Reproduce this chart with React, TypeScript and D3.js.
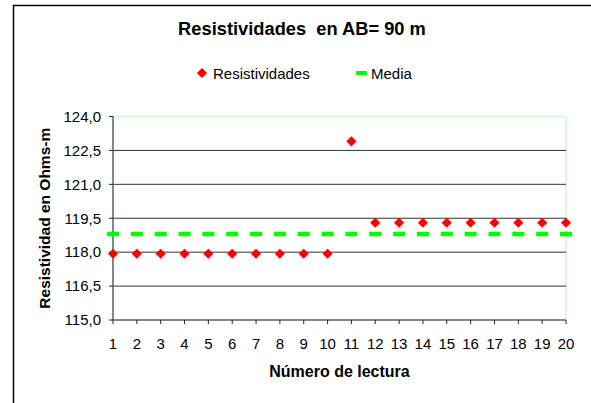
import * as d3 from "d3";

const lecturas = ["1", "2", "3", "4", "5", "6", "7", "8", "9", "10", "11", "12", "13", "14", "15", "16", "17", "18", "19", "20"];
const resistividades = [117.93, 117.93, 117.93, 117.93, 117.93, 117.93, 117.93, 117.93, 117.93, 117.93, 122.9, 119.3, 119.3, 119.3, 119.3, 119.3, 119.3, 119.3, 119.3, 119.3];
const media = 118.8;
const yTicks = [115, 116.5, 118, 119.5, 121, 122.5, 124];

const width = 591;
const height = 403;

const PLOT = { left: 113, right: 566, top: 116.5, bottom: 320 };

const FONT = "'Liberation Sans', Arial, sans-serif";

function App() {
  const xScale = d3.scalePoint<string>()
    .domain(lecturas)
    .range([PLOT.left, PLOT.right]);

  const yScale = d3.scaleLinear()
    .domain([115, 124])
    .range([PLOT.bottom, PLOT.top]);

  const step = xScale.step();
  const diamond = d3.symbol().type(d3.symbolSquare).size(52)();
  const fmt = (v: number) => v.toFixed(1).replace(".", ",");

  const axisColor = "#566656";
  const yMedia = yScale(media);

  return (
    <svg width={width} height={height} style={{ position: "absolute", left: 0, top: 0, fontFamily: FONT }}>
      <rect x={0} y={0} width={width} height={height} fill="#fff" />
      {/* chart frame */}
      <rect x={13.5} y={5.5} width={640} height={450} fill="none" stroke="#000" strokeWidth={1.5} />

      <text x={302} y={35} textAnchor="middle" fontWeight="bold" fontSize={18.3} style={{ whiteSpace: "pre" }}>
        {"Resistividades  en AB= 90 m"}
      </text>

      {/* legend */}
      <path d={diamond ?? ""} transform="translate(202,73) rotate(45)" fill="#ff0000" />
      <text x={213} y={78.5} fontSize={15}>Resistividades</text>
      <line x1={356} x2={367} y1={73} y2={73} stroke="#00ff00" strokeWidth={4} />
      <text x={371} y={78.5} fontSize={15}>Media</text>

      {/* plot border top/right */}
      <line x1={PLOT.left} x2={PLOT.right} y1={PLOT.top} y2={PLOT.top} stroke="#c8fcc8" strokeWidth={1.5} />
      <line x1={PLOT.right} x2={PLOT.right} y1={PLOT.top} y2={PLOT.bottom} stroke="#c8fcc8" strokeWidth={1.5} />

      {/* gridlines */}
      {yTicks.filter(t => t > 115 && t < 124).map(t => (
        <line key={t} x1={PLOT.left} x2={PLOT.right} y1={yScale(t)} y2={yScale(t)} stroke="#333" strokeWidth={1} />
      ))}

      {/* y axis */}
      <line x1={PLOT.left} x2={PLOT.left} y1={PLOT.top} y2={PLOT.bottom} stroke={axisColor} strokeWidth={1.5} />
      {yTicks.map(t => (
        <g key={t}>
          <line x1={PLOT.left - 4} x2={PLOT.left} y1={yScale(t)} y2={yScale(t)} stroke="#222" />
          <text x={101} y={yScale(t)} dy="0.35em" textAnchor="end" fontSize={15}>{fmt(t)}</text>
        </g>
      ))}

      {/* x axis */}
      <line x1={PLOT.left} x2={PLOT.right} y1={PLOT.bottom} y2={PLOT.bottom} stroke={axisColor} strokeWidth={1.5} />
      {lecturas.map(c => (
        <g key={c}>
          <line x1={xScale(c)} x2={xScale(c)} y1={PLOT.bottom} y2={PLOT.bottom + 4} stroke="#222" />
          <text x={xScale(c)} y={348.5} textAnchor="middle" fontSize={15}>{c}</text>
        </g>
      ))}

      {/* media */}
      <line
        x1={(xScale(lecturas[0]) ?? 0) - 6}
        x2={(xScale(lecturas[lecturas.length - 1]) ?? 0) + 6}
        y1={yMedia}
        y2={yMedia}
        stroke="#00ff00"
        strokeWidth={4.5}
        strokeDasharray={`12 ${step - 12}`}
      />

      {/* points */}
      {resistividades.map((v, i) => (
        <path key={i} d={diamond ?? ""} transform={`translate(${xScale(lecturas[i])},${yScale(v)}) rotate(45)`} fill="#ff0000" />
      ))}

      <text x={339.5} y={376.5} textAnchor="middle" fontWeight="bold" fontSize={16}>Número de lectura</text>
      <text transform={`translate(49.5,${(PLOT.top + PLOT.bottom) / 2}) rotate(-90)`} textAnchor="middle" fontWeight="bold" fontSize={15.5}>
        Resistividad en Ohms-m
      </text>
    </svg>
  );
}

export default App;
